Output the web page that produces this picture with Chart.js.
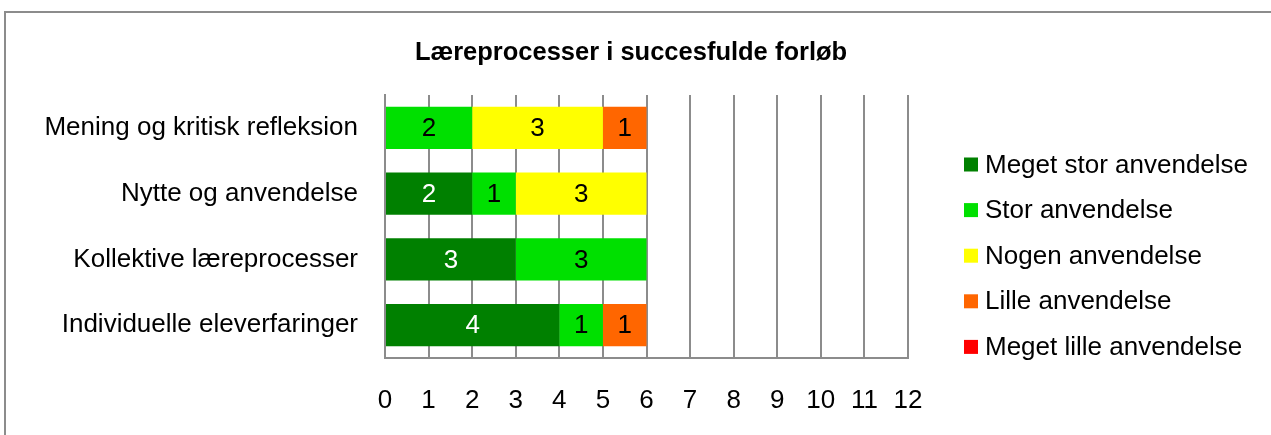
<!DOCTYPE html>
<html>
<head>
<meta charset="utf-8">
<script src="https://cdn.jsdelivr.net/npm/chart.js@4"></script>
<style>
  body { margin: 0; background: #fff; }
  #frame { position: absolute; left: 4px; top: 11px; width: 1300px; height: 500px; border: 2px solid #8c8c8c; }
  #myBarChart { position: absolute; left: 0; top: 0; }
</style>
</head>
<body>
<div id="frame"></div>
<canvas id="myBarChart" width="1271" height="435"></canvas>
<script>
const chartTitle = 'Læreprocesser i succesfulde forløb';
const categories = ['Mening og kritisk refleksion', 'Nytte og anvendelse', 'Kollektive læreprocesser', 'Individuelle eleverfaringer'];
const megetStor = [0, 2, 3, 4];
const stor = [2, 1, 3, 1];
const nogen = [3, 3, 0, 0];
const lille = [1, 0, 0, 1];
const megetLille = [0, 0, 0, 0];
const xTicks = [0, 1, 2, 3, 4, 5, 6, 7, 8, 9, 10, 11, 12];

const fontFamily = '"Liberation Sans", Arial, sans-serif';
const gridColor = '#8c8c8c';

// numbers inside the bars
const barLabels = {
    id: 'barLabels',
    afterDatasetsDraw(chart) {
        const ctx = chart.ctx;
        ctx.save();
        ctx.font = '26px ' + fontFamily;
        ctx.textAlign = 'center';
        ctx.textBaseline = 'middle';
        chart.data.datasets.forEach((ds, i) => {
            chart.getDatasetMeta(i).data.forEach((bar, j) => {
                const v = ds.data[j];
                if (!v) return;
                const p = bar.getCenterPoint();
                ctx.fillStyle = i === 0 ? '#ffffff' : '#000000';
                ctx.fillText(v, p.x, p.y + 1);
            });
        });
        ctx.restore();
    }
};

// title over the whole width and legend on the right, drawn by hand
const titleAndLegend = {
    id: 'titleAndLegend',
    afterDraw(chart) {
        const ctx = chart.ctx;
        ctx.save();
        ctx.fillStyle = '#000';
        ctx.textAlign = 'center';
        ctx.textBaseline = 'middle';
        ctx.font = 'bold 25.5px ' + fontFamily;
        ctx.fillText(chartTitle, 631, 53);

        ctx.textAlign = 'left';
        ctx.font = '26px ' + fontFamily;
        chart.data.datasets.forEach((ds, i) => {
            const y = 164.5 + i * 45.6;
            ctx.fillStyle = ds.backgroundColor;
            ctx.fillRect(964, y - 7, 14, 14);
            ctx.fillStyle = '#000';
            ctx.fillText(ds.label, 985, y + 1);
        });
        ctx.restore();
    }
};

new Chart(document.getElementById('myBarChart'), {
    type: 'bar',
    data: {
        labels: categories,
        datasets: [
            { label: 'Meget stor anvendelse', data: megetStor, backgroundColor: '#008000' },
            { label: 'Stor anvendelse', data: stor, backgroundColor: '#00e000' },
            { label: 'Nogen anvendelse', data: nogen, backgroundColor: '#ffff00' },
            { label: 'Lille anvendelse', data: lille, backgroundColor: '#ff6600' },
            { label: 'Meget lille anvendelse', data: megetLille, backgroundColor: '#ff0000' }
        ]
    },
    options: {
        indexAxis: 'y',
        responsive: false,
        animation: false,
        barPercentage: 0.64,
        categoryPercentage: 1,
        layout: { padding: { top: 95, left: 0, right: 363, bottom: 0 } },
        plugins: {
            legend: { display: false },
            tooltip: { enabled: false },
            title: { display: false }
        },
        scales: {
            x: {
                stacked: true,
                min: 0,
                max: 12,
                afterBuildTicks: scale => { scale.ticks = xTicks.map(v => ({ value: v })); },
                afterFit: scale => { scale.height = 77; },
                ticks: {
                    color: '#000',
                    font: { family: fontFamily, size: 26 },
                    padding: 27
                },
                grid: { color: gridColor, lineWidth: 2, drawTicks: false },
                border: { color: gridColor, width: 2 }
            },
            y: {
                stacked: true,
                afterFit: scale => { scale.width = 385; },
                ticks: {
                    color: '#000',
                    font: { family: fontFamily, size: 26 },
                    padding: 27
                },
                grid: { display: false, drawTicks: false },
                border: { color: gridColor, width: 2 }
            }
        }
    },
    plugins: [barLabels, titleAndLegend]
});
</script>
</body>
</html>
